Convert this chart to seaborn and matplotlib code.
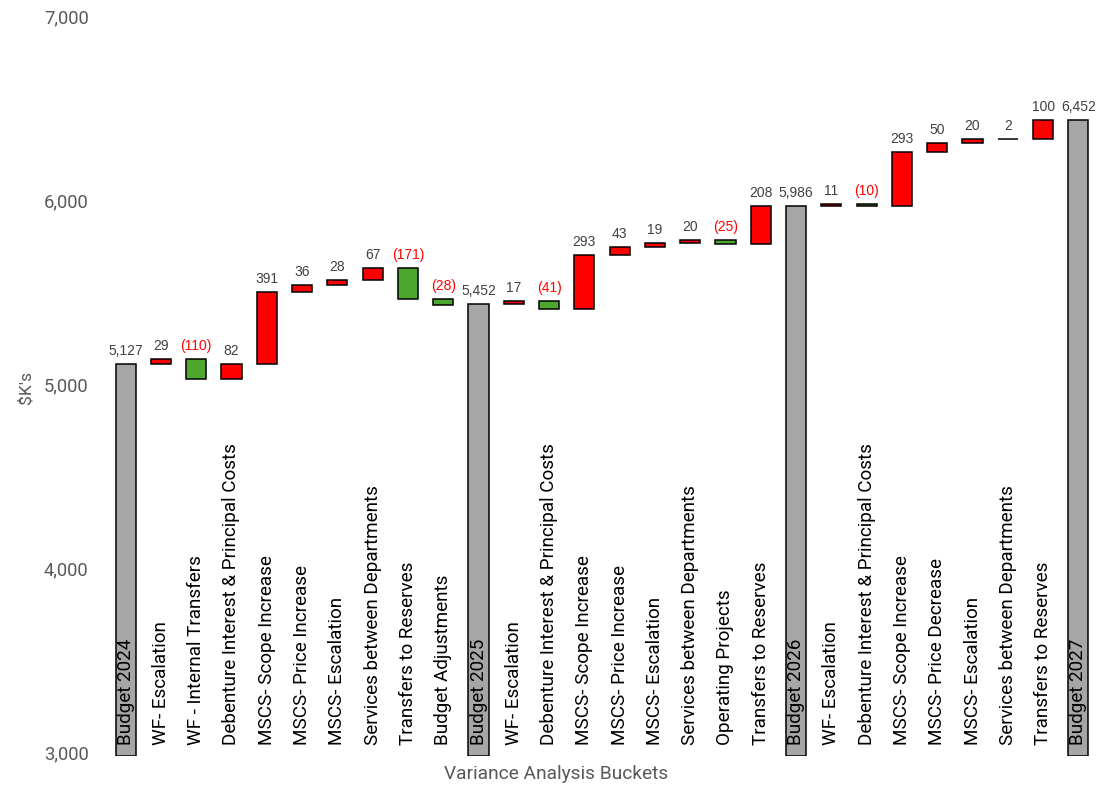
import matplotlib
matplotlib.use("Agg")
import matplotlib.pyplot as plt
import matplotlib.transforms as mtransforms
import numpy as np
import pandas as pd
import seaborn as sns

# Buckets in order; totals are marked in `is_total`
categories = [
    "Budget 2024", "WF- Escalation", "WF - Internal Transfers",
    "Debenture Interest & Principal Costs", "MSCS- Scope Increase",
    "MSCS- Price Increase", "MSCS- Escalation", "Services between Departments",
    "Transfers to Reserves", "Budget Adjustments",
    "Budget 2025", "WF- Escalation", "Debenture Interest & Principal Costs",
    "MSCS- Scope Increase", "MSCS- Price Increase", "MSCS- Escalation",
    "Services between Departments", "Operating Projects", "Transfers to Reserves",
    "Budget 2026", "WF- Escalation", "Debenture Interest & Principal Costs",
    "MSCS- Scope Increase", "MSCS- Price Decrease", "MSCS- Escalation",
    "Services between Departments", "Transfers to Reserves",
    "Budget 2027",
]
# Totals hold the budget level, the others the change ($K's)
values = [
    5127, 29, -110, 82, 391, 36, 28, 67, -171, -28,
    5452, 17, -41, 293, 43, 19, 20, -25, 208,
    5986, 11, -10, 293, 50, 20, 2, 100,
    6452,
]
is_total = [
    True, False, False, False, False, False, False, False, False, False,
    True, False, False, False, False, False, False, False, False,
    True, False, False, False, False, False, False, False,
    True,
]
y_ticks = [3000, 4000, 5000, 6000, 7000]

AXIS_MIN = 3000
RED = "#FF0000"
GREEN = "#4EA72E"
GREY = "#A6A6A6"
TEXT_GREY = "#595959"

# Running level -> floating bar base and height
bases, heights, colors = [], [], []
level = 0
for v, tot in zip(values, is_total):
    if tot:
        level = v
        bases.append(AXIS_MIN)
        heights.append(v - AXIS_MIN)
        colors.append(GREY)
    else:
        start = level
        level = level + v
        bases.append(min(start, level))
        heights.append(abs(v))
        colors.append(RED if v >= 0 else GREEN)

df = pd.DataFrame({"pos": np.arange(len(categories)), "height": heights})

sns.set_theme(style="white")
plt.rcParams["font.family"] = ["Roboto", "DejaVu Sans"]

W, H = 1103, 786
fig = plt.figure(figsize=(W / 100, H / 100), dpi=100)
ax_top, ax_bot = 19.5, 755.5
ax = fig.add_axes([108 / W, 1 - ax_bot / H, 988 / W, (ax_bot - ax_top) / H])

sns.barplot(
    data=df, x="pos", y="height", hue="pos", palette=colors, legend=False,
    saturation=1, edgecolor="black", linewidth=1.1, width=0.57,
    errorbar=None, ax=ax,
)

# Lift each bar onto its running base to make the waterfall
for patch in ax.patches:
    i = int(round(patch.get_x() + patch.get_width() / 2))
    patch.set_y(bases[i])
    patch.set_height(heights[i])

ax.set_xlim(-0.5, len(categories) - 0.5)
ax.set_ylim(AXIS_MIN, 7000)
ax.set_yticks(y_ticks)
ax.set_yticklabels([f"{t:,}" for t in y_ticks], fontsize=13.2, color=TEXT_GREY)
ax.tick_params(axis="y", length=0, pad=14)
# Tick labels sit a little above their gridline value
lift = mtransforms.ScaledTranslation(0, 3 / 100, fig.dpi_scale_trans)
for lbl in ax.get_yticklabels():
    lbl.set_transform(lbl.get_transform() + lift)
ax.set_xticks([])
for s in ax.spines.values():
    s.set_visible(False)

# Bucket names written vertically inside the plot
for i, name in enumerate(categories):
    ax.text(i, 3057, name, rotation=90, ha="center", va="bottom",
            fontsize=13.6, color="black")

# Value labels over each bar
for i, (v, tot) in enumerate(zip(values, is_total)):
    top = bases[i] + heights[i]
    if v < 0:
        txt, col = f"({-v:,})", RED
    else:
        txt, col = f"{v:,}", "#404040"
    ax.annotate(txt, (i, top), xytext=(0, 6), textcoords="offset pixels",
                ha="center", va="bottom", fontsize=10, color=col,
                family=["Liberation Sans", "DejaVu Sans"])

ax.set_xlabel("Variance Analysis Buckets", fontsize=13.8, color=TEXT_GREY)
ax.xaxis.set_label_coords((556 - 108) / 988, -0.013, transform=ax.transAxes)
ax.xaxis.label.set_va("top")
ax.set_ylabel("$K's", fontsize=12.6, color=TEXT_GREY)
ax.yaxis.set_label_coords(-0.075, 0.5)

fig.savefig("out.png", dpi=100)
